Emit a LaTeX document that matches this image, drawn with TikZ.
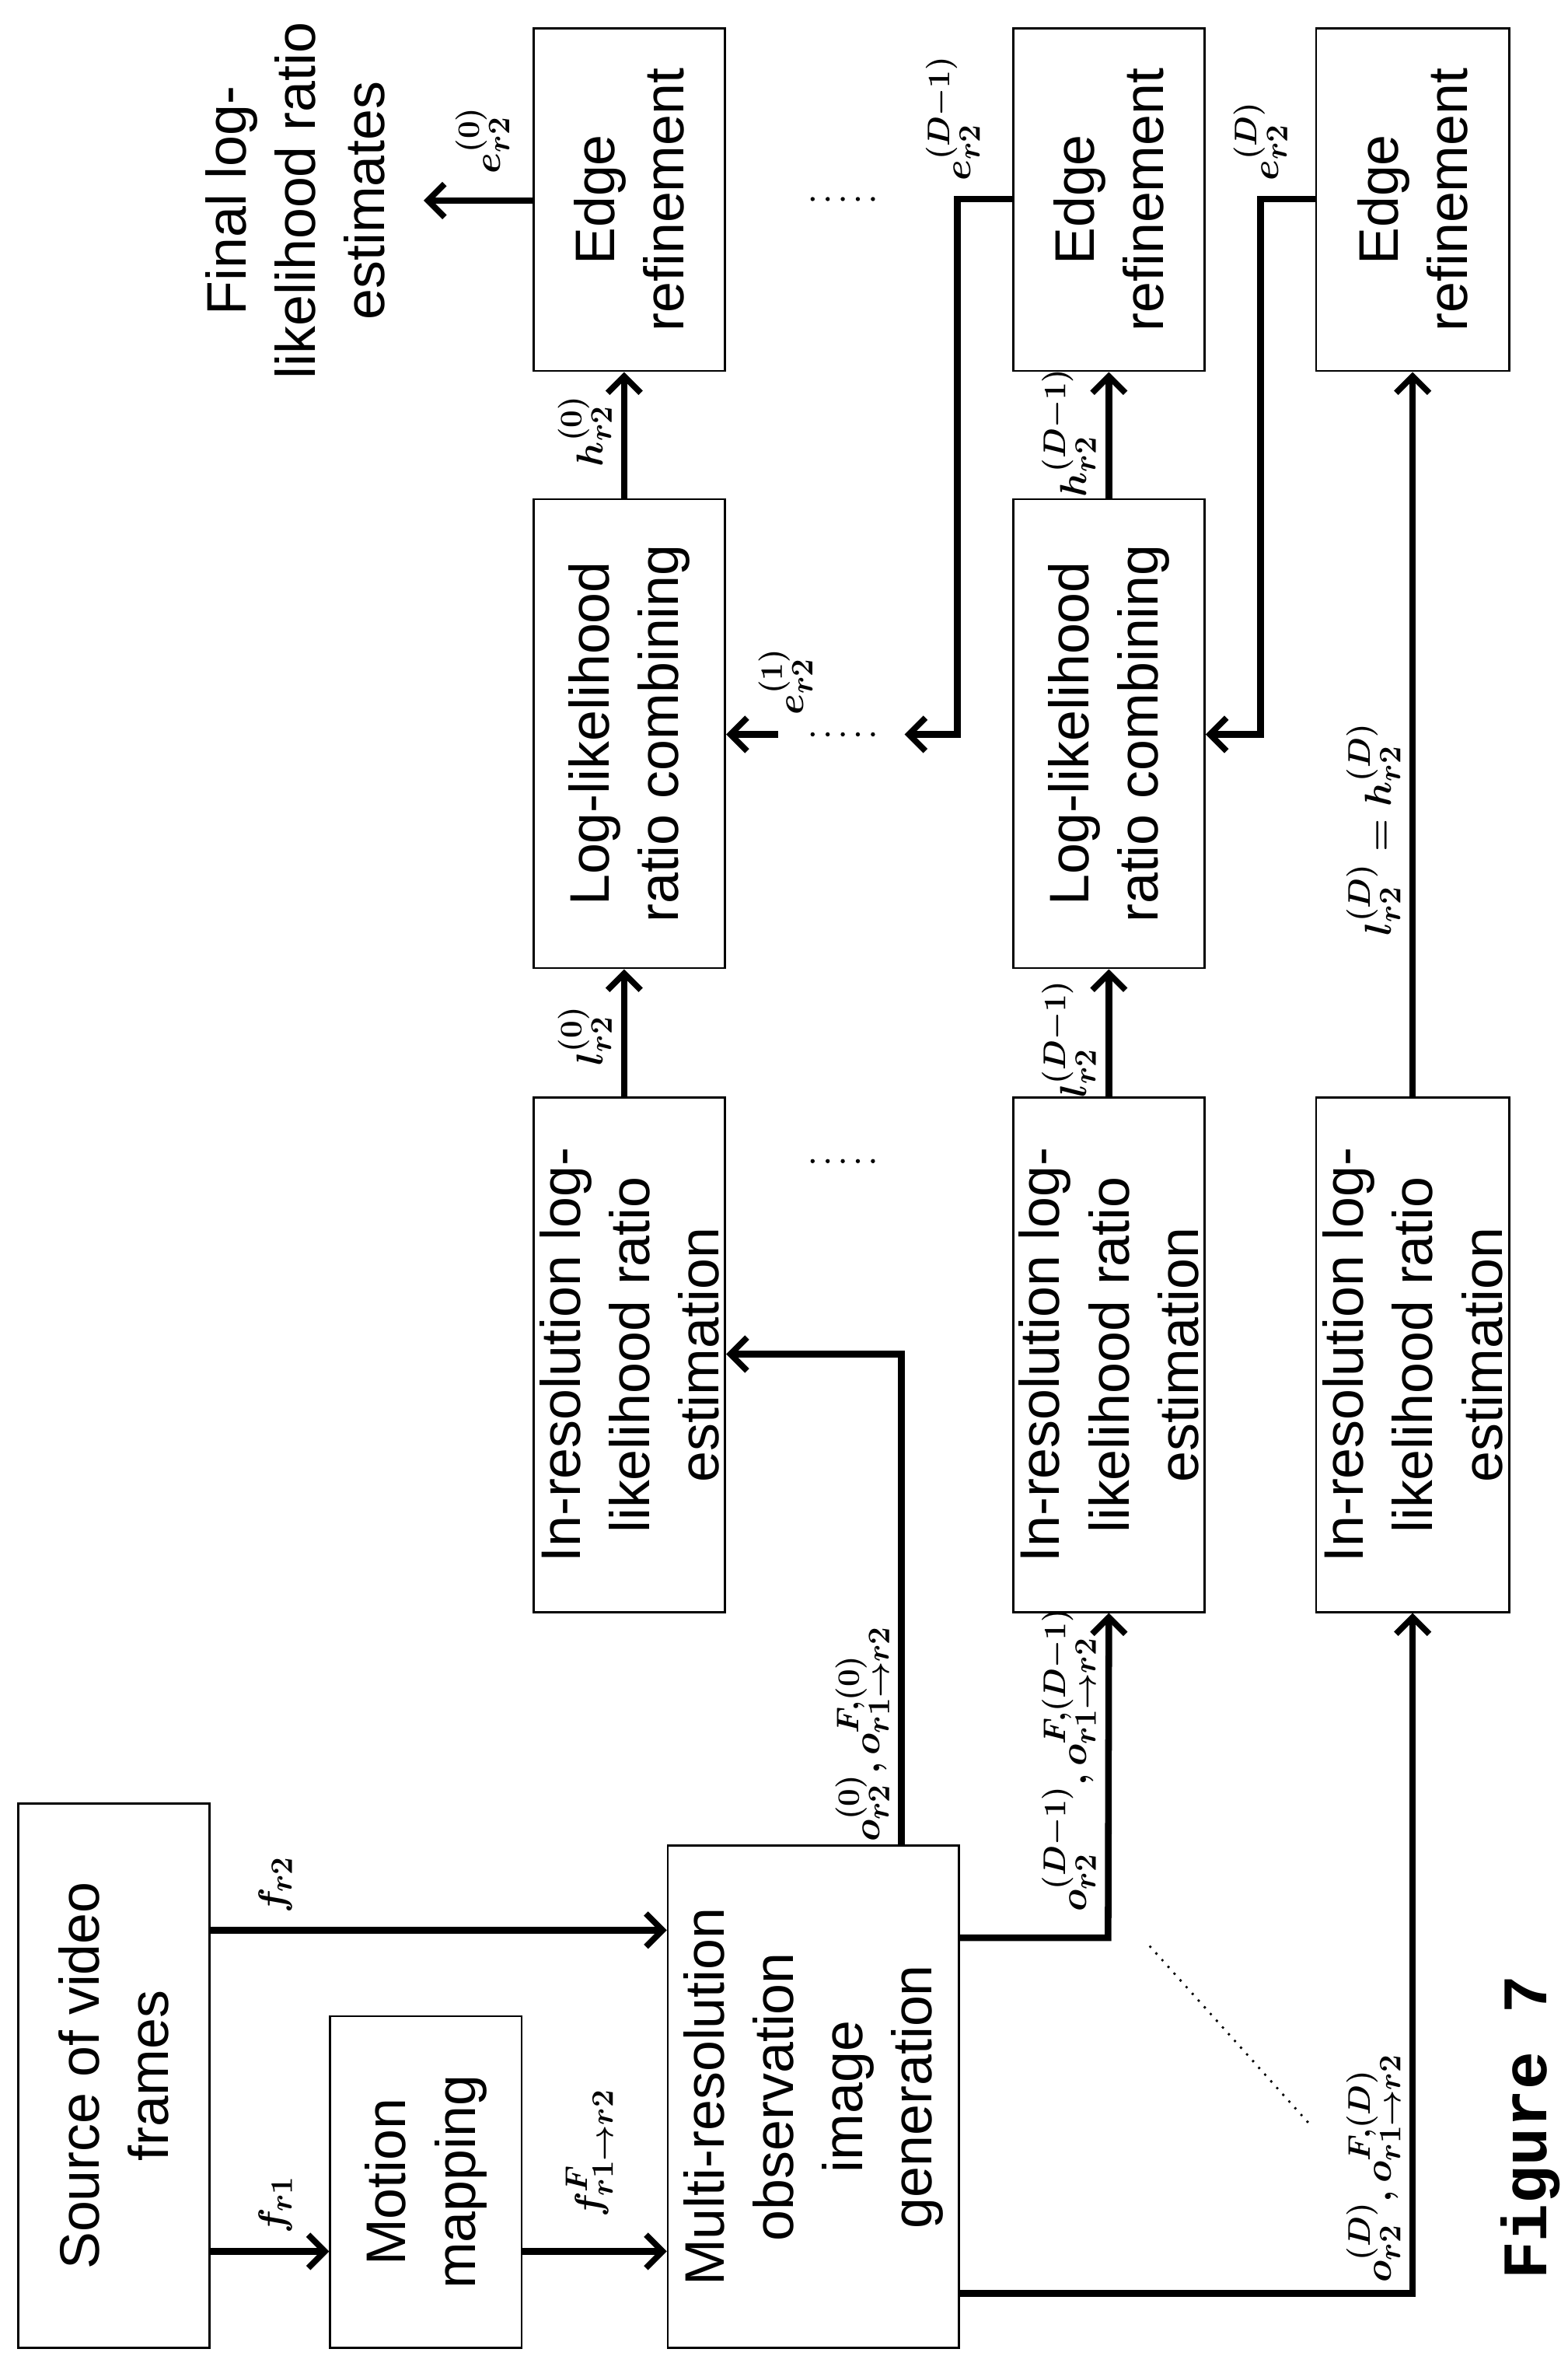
\documentclass[tikz,border=0pt]{standalone}
\usepackage{fontspec}
\setmainfont{Liberation Sans}
\newfontfamily\figfont{Liberation Mono}
\usetikzlibrary{arrows.meta}
\begin{document}
\begin{tikzpicture}[x=1pt,y=-1pt,
  box/.style={draw,line width=1.4pt,rotate=90,align=center,inner sep=0pt,
    font=\fontsize{37}{46}\selectfont},
  arr/.style={line width=4.4pt,-{Straight Barb[length=11pt,width=22pt,line width=4pt]}},
  lab/.style={rotate=90,inner sep=0pt,font=\fontsize{31}{35}\selectfont\boldmath},
  ]
\useasboundingbox (0,0) rectangle (1040,1562.4);
\newcommand\bx[6]{\node[box,minimum width={#5-#4},minimum height={#3-#2}] (#1) at ({(#2+#3)/2},{(#4+#5)/2}) {#6};}
\bx{src}{12}{139}{1196}{1557}{Source of video\\frames}
\bx{mot}{219}{346}{1337}{1557}{Motion\\mapping}
\bx{multi}{443}{636}{1224}{1557}{Multi-resolution\\observation\\image\\generation}
\bx{inr0}{354}{481}{728}{1069}{In-resolution log-\\likelihood ratio\\estimation}
\bx{inr1}{672}{799}{728}{1069}{In-resolution log-\\likelihood ratio\\estimation}
\bx{inr2}{873}{1001}{728}{1069}{In-resolution log-\\likelihood ratio\\estimation}
\bx{llr0}{354}{481}{331}{642}{Log-likelihood\\ratio combining}
\bx{llr1}{672}{799}{331}{642}{Log-likelihood\\ratio combining}
\bx{edg0}{354}{481}{19}{246}{Edge\\refinement}
\bx{edg1}{672}{799}{19}{246}{Edge\\refinement}
\bx{edg2}{873}{1001}{19}{246}{Edge\\refinement}
\node[rotate=90,align=center,inner sep=0pt,font=\fontsize{37}{46}\selectfont] (final) at (196,133) {Final log-\\likelihood ratio\\estimates};
\node[rotate=90,inner sep=0pt,font=\fontsize{42}{44}\selectfont\figfont\bfseries] (fig) at (1015,1411) {Figure 7};
% connectors
\draw[arr] (src.south |- 0,1493) -- (mot.north |- 0,1493);
\draw[arr] (src.south |- 0,1280) -- (multi.north |- 0,1280);
\draw[arr] (mot.south |- 0,1493) -- (multi.north |- 0,1493);
\coordinate (c0) at (598,898);
\draw[arr] (multi.east -| c0) -- (c0) -- (inr0.south |- c0);
\coordinate (c1) at (735,1285);
\draw[arr] (multi.south |- c1) -- (c1) -- (inr1.west);
\coordinate (c2) at (937,1521);
\draw[arr] (multi.south |- c2) -- (c2) -- (inr2.west -| c2);
\draw[arr] (inr0.east -| 414,0) -- (llr0.west -| 414,0);
\draw[arr] (llr0.east -| 414,0) -- (edg0.west -| 414,0);
\draw[arr] (inr1.east) -- (llr1.west);
\draw[arr] (llr1.east) -- (edg1.west);
\draw[arr] (inr2.east -| 937,0) -- (edg2.west -| 937,0);
\coordinate (fo) at (281,133);
\draw[arr] (edg0.north |- fo) -- (fo);
\coordinate (e1s) at (516,487);
\draw[arr] (e1s) -- (llr0.south |- e1s);
\coordinate (d1a) at (635,132); \coordinate (d1b) at (635,487); \coordinate (d1c) at (600,487);
\draw[arr] (edg1.north |- d1a) -- (d1a) -- (d1b) -- (d1c);
\coordinate (d2a) at (836,132); \coordinate (d2b) at (836,487);
\draw[arr] (edg2.north |- d2a) -- (d2a) -- (d2b) -- (llr1.south |- d2b);
% dots
\foreach \y in {132,487,770}{\foreach \x in {539,549,559,569,579}{\fill (\x,\y) circle (1.4);}}
\draw[line width=2pt,line cap=round,dash pattern=on 0pt off 6pt] (763,1291) -- (869,1409);
% labels
\node[lab] (lf1) at (183,1462) {$f_{r1}$};
\node[lab] (lf2) at (183,1250) {$f_{r2}$};
\node[lab] (lff) at (391,1428) {$f^F_{r1\to r2}$};
\node[lab,anchor=south] (lo0) at (590,1150) {$o_{r2}^{(0)},o_{r1\to r2}^{F,(0)}$};
\node[lab,anchor=south] (lo1) at (727,1167) {$o_{r2}^{(D-1)},o_{r1\to r2}^{F,(D-1)}$};
\node[lab,anchor=south] (lo2) at (929,1438) {$o_{r2}^{(D)},o_{r1\to r2}^{F,(D)}$};
\node[lab,anchor=south] (ll0) at (406,687) {$l_{r2}^{(0)}$};
\node[lab,anchor=south] (ll1) at (727,689) {$l_{r2}^{(D-1)}$};
\node[lab,anchor=south] (llh) at (929,550) {$l_{r2}^{(D)}=h_{r2}^{(D)}$};
\node[lab,anchor=south] (lh0) at (406,286) {$h_{r2}^{(0)}$};
\node[lab,anchor=south] (lh1) at (727,287) {$h_{r2}^{(D-1)}$};
\node[lab] (le0) at (320,93) {$e_{r2}^{(0)}$};
\node[lab] (le1) at (521,452) {$e_{r2}^{(1)}$};
\node[lab,anchor=west] (le2) at (632,120) {$e_{r2}^{(D-1)}$};
\node[lab,anchor=west] (le3) at (836,120) {$e_{r2}^{(D)}$};
\end{tikzpicture}
\end{document}
